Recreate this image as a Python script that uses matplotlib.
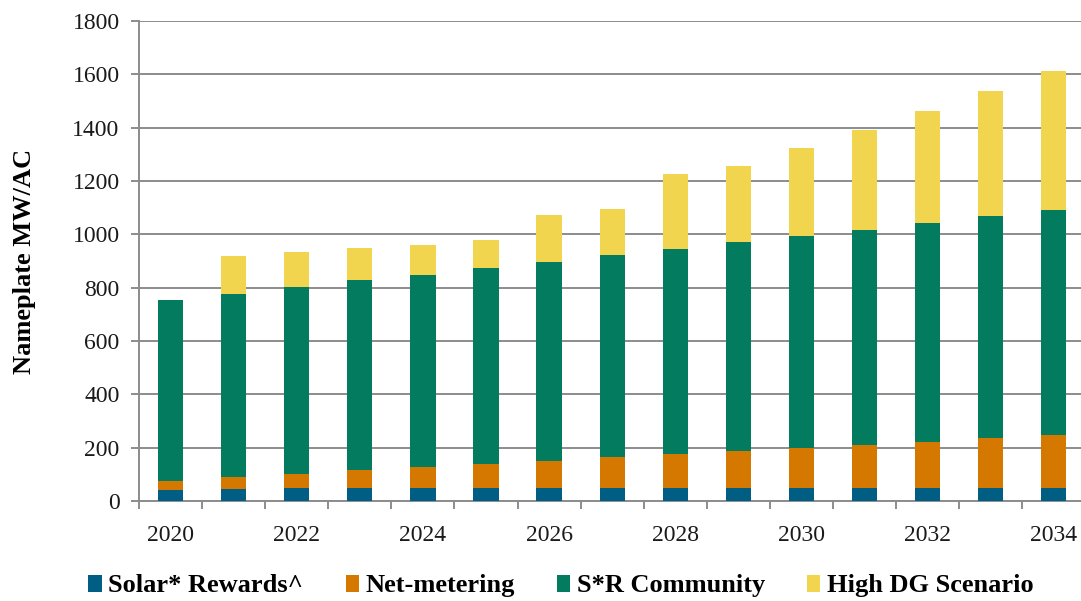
import matplotlib.pyplot as plt
import numpy as np
from matplotlib.patches import Patch

plt.rcParams['font.family'] = ['Liberation Serif', 'DejaVu Serif']

years = list(range(2020, 2035))
solar_rewards = [41, 45, 47, 50, 50, 50, 50, 50, 50, 50, 50, 50, 50, 50, 50]
net_metering = [34, 45, 54, 65, 77, 89, 100, 114, 125, 137, 149, 161, 172, 185, 197]
sr_community = [677, 687, 701, 713, 722, 735, 748, 759, 771, 783, 796, 807, 821, 832, 843]
high_dg = [0, 143, 132, 119, 112, 103, 176, 172, 280, 288, 329, 375, 420, 469, 524]

series = [
    ("Solar* Rewards^", solar_rewards, "#005E85"),
    ("Net-metering", net_metering, "#D57800"),
    ("S*R Community", sr_community, "#027B5E"),
    ("High DG Scenario", high_dg, "#F2D54E"),
]

grid_col = "#8C8C8C"

fig = plt.figure(figsize=(10.81, 6.01), dpi=100)
ax = fig.add_axes([139 / 1081, 100 / 601, 942 / 1081, 480 / 601])

x = np.arange(len(years))
bottom = np.zeros(len(years))
for name, vals, col in series:
    ax.bar(x, vals, 0.4, bottom=bottom, color=col, zorder=3)
    bottom += np.array(vals)

ax.set_ylim(0, 1800)
ax.set_xlim(-0.5, 14.43)
ax.set_yticks(range(0, 1801, 200))
ax.yaxis.grid(True, color=grid_col, linewidth=1.4, zorder=0)

# year labels every other bar, tick marks between the bars
ax.set_xticks(x[::2])
ax.set_xticklabels([str(y) for y in years[::2]])
ax.set_xticks(np.arange(-0.5, 14.5, 1), minor=True)
ax.tick_params(axis='x', which='major', length=0, pad=17, labelsize=17, labelcolor="#1a1a1a")
ax.tick_params(axis='x', which='minor', length=6, width=1.4, color=grid_col)
ax.tick_params(axis='y', length=6, width=1.4, color=grid_col, pad=8, labelsize=17, labelcolor="#1a1a1a")

for side in ('top', 'right'):
    ax.spines[side].set_visible(False)
for side in ('left', 'bottom'):
    ax.spines[side].set_color(grid_col)
    ax.spines[side].set_linewidth(1.4)

ax.set_ylabel("Nameplate MW/AC", fontsize=19, fontweight='bold', labelpad=26)

handles = [Patch(facecolor=col, label=name) for name, vals, col in series]
fig.legend(handles=handles, loc='center', bbox_to_anchor=(0.519, 0.025), ncol=4,
           frameon=False, prop={'size': 19, 'weight': 'bold'},
           handlelength=0.5, handleheight=0.6, handletextpad=0.25, columnspacing=1.6)

fig.savefig("out.png", dpi=100)
